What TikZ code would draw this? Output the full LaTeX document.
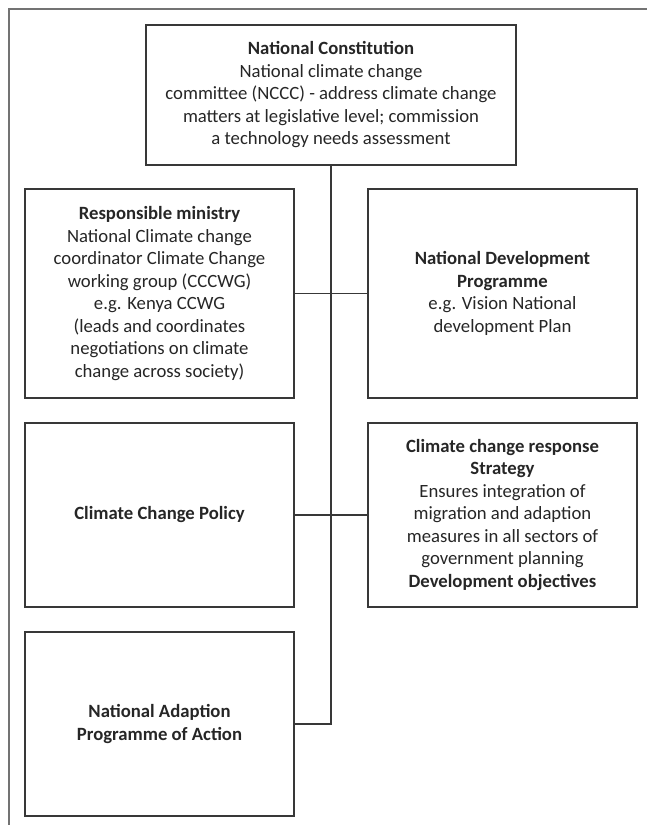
\documentclass[tikz,border=0pt]{standalone}
\usepackage{fontspec}
\setmainfont{Carlito}
\begin{document}
\begin{tikzpicture}[x=1pt,y=-1pt,
  lineclr/.style={draw=black!78, line width=1.1pt},
  box/.style={lineclr, rectangle, align=center, text=black!85, inner sep=0pt,
    font=\fontsize{18.7}{22.5}\selectfont},
  wbox/.style={box, minimum width=269pt},
  link/.style={lineclr}
]
\useasboundingbox (0,0) rectangle (647,825);
\fill[white] (0,0) rectangle (647,825);
\draw[draw=black!55, line width=1.1pt] (647,9) -- (9,9) -- (9,825);

\node[box, minimum width=370pt, minimum height=140pt] (top) at (331,95)
 {\textbf{National Constitution}\\National climate change\\committee (NCCC) - address climate change\\matters at legislative level; commission\\a technology needs assessment};

\node[wbox, minimum height=209pt] (b2l) at (159.5,293.5)
 {\textbf{Responsible ministry}\\National Climate change\\coordinator Climate Change\\working group (CCCWG)\\e.g. Kenya CCWG\\(leads and coordinates\\negotiations on climate\\change across society)};
\node[wbox, minimum height=209pt] (b2r) at (502.5,293.5)
 {\textbf{National Development}\\\textbf{Programme}\\e.g. Vision National\\development Plan};

\node[wbox, minimum height=184pt] (b3l) at (159.5,515)
 {\textbf{Climate Change Policy}};
\node[wbox, minimum height=184pt] (b3r) at (502.5,515)
 {\textbf{Climate change response}\\\textbf{Strategy}\\Ensures integration of\\migration and adaption\\measures in all sectors of\\government planning\\\textbf{Development objectives}};

\node[wbox, minimum height=184pt] (b4l) at (159.5,724)
 {\textbf{National Adaption}\\\textbf{Programme of Action}};

\coordinate (trunkend) at (top.south |- b4l.east);
\draw[link] (top.south) -- (trunkend) -- (b4l.east);
\draw[link] (b2l.east) -- (b2r.west);
\draw[link] (b3l.east) -- (b3r.west);
\end{tikzpicture}
\end{document}
